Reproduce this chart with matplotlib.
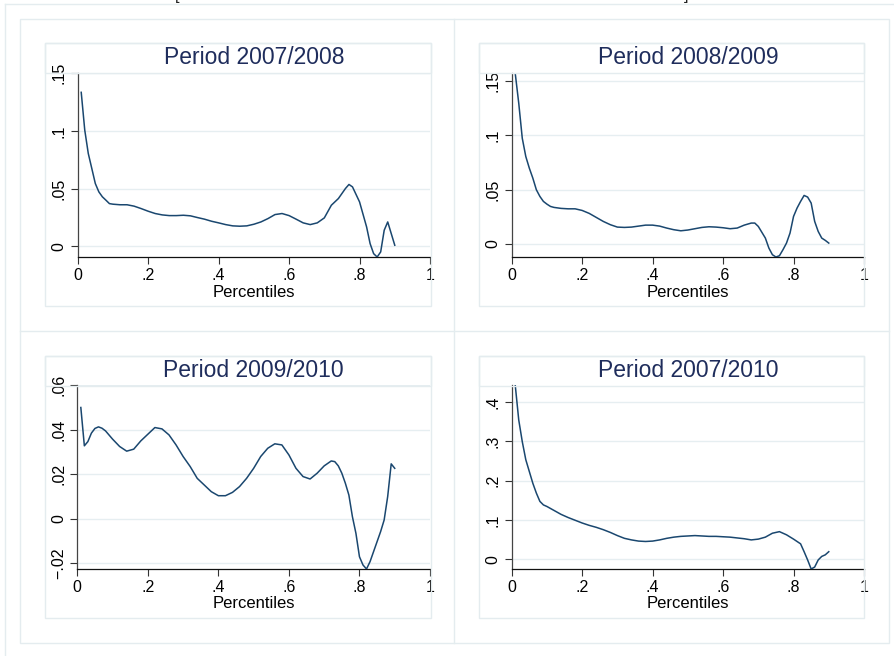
import matplotlib
matplotlib.use("Agg")
import matplotlib.pyplot as plt
from matplotlib.lines import Line2D
from matplotlib.patches import Rectangle

plt.rcParams['font.family'] = ['Liberation Sans', 'DejaVu Sans']

# ---- data -------------------------------------------------------------
p_0708 = [0.01, 0.02, 0.03, 0.04, 0.05, 0.06, 0.07, 0.08, 0.09, 0.10, 0.12, 0.14,
          0.16, 0.18, 0.20, 0.22, 0.24, 0.26, 0.28, 0.30, 0.32, 0.34, 0.36, 0.38,
          0.40, 0.42, 0.44, 0.46, 0.48, 0.50, 0.52, 0.54, 0.56, 0.58, 0.60, 0.62,
          0.64, 0.66, 0.68, 0.70, 0.72, 0.74, 0.76, 0.77, 0.78, 0.80, 0.82, 0.83,
          0.84, 0.85, 0.86, 0.87, 0.88, 0.89, 0.90]
v_0708 = [0.1335, 0.1008, 0.0805, 0.0675, 0.0544, 0.0472, 0.0429, 0.0400, 0.0370,
          0.0365, 0.0360, 0.0360, 0.0348, 0.0327, 0.0304, 0.0284, 0.0272, 0.0266,
          0.0266, 0.0269, 0.0264, 0.0249, 0.0235, 0.0217, 0.0203, 0.0188, 0.0177,
          0.0174, 0.0177, 0.0191, 0.0211, 0.0240, 0.0275, 0.0284, 0.0266, 0.0235,
          0.0203, 0.0188, 0.0203, 0.0246, 0.0356, 0.0414, 0.0501, 0.0536, 0.0515,
          0.0385, 0.0168, 0.0023, -0.0064, -0.0093, -0.0049, 0.0139, 0.0211,
          0.0110, 0.0009]

p_0809 = [0.01, 0.02, 0.03, 0.04, 0.05, 0.06, 0.07, 0.08, 0.09, 0.10, 0.11, 0.12,
          0.14, 0.16, 0.18, 0.20, 0.22, 0.24, 0.26, 0.28, 0.30, 0.32, 0.34, 0.36,
          0.38, 0.40, 0.42, 0.44, 0.46, 0.48, 0.50, 0.52, 0.54, 0.56, 0.58, 0.60,
          0.62, 0.64, 0.66, 0.68, 0.69, 0.70, 0.72, 0.73, 0.74, 0.75, 0.76, 0.77,
          0.78, 0.79, 0.80, 0.81, 0.82, 0.83, 0.84, 0.85, 0.86, 0.87, 0.88, 0.89,
          0.90]
v_0809 = [0.1570, 0.1295, 0.0973, 0.0805, 0.0698, 0.0606, 0.0499, 0.0438, 0.0392,
          0.0367, 0.0346, 0.0337, 0.0328, 0.0324, 0.0324, 0.0309, 0.0282, 0.0245,
          0.0208, 0.0178, 0.0156, 0.0153, 0.0156, 0.0165, 0.0174, 0.0174, 0.0165,
          0.0147, 0.0132, 0.0122, 0.0129, 0.0141, 0.0153, 0.0159, 0.0156, 0.0150,
          0.0141, 0.0147, 0.0174, 0.0193, 0.0193, 0.0162, 0.0055, -0.0037, -0.0098,
          -0.0119, -0.0107, -0.0052, 0.0009, 0.0101, 0.0254, 0.0331, 0.0392,
          0.0447, 0.0432, 0.0377, 0.0208, 0.0116, 0.0055, 0.0034, 0.0009]

p_0910 = [0.01, 0.02, 0.03, 0.04, 0.05, 0.06, 0.07, 0.08, 0.10, 0.12, 0.14, 0.16,
          0.18, 0.20, 0.22, 0.24, 0.26, 0.28, 0.30, 0.32, 0.34, 0.36, 0.38, 0.40,
          0.42, 0.44, 0.46, 0.48, 0.50, 0.52, 0.54, 0.56, 0.58, 0.60, 0.62, 0.64,
          0.66, 0.68, 0.70, 0.72, 0.73, 0.74, 0.75, 0.76, 0.77, 0.78, 0.79, 0.80,
          0.81, 0.82, 0.83, 0.84, 0.85, 0.86, 0.87, 0.88, 0.89, 0.90]
v_0910 = [0.0499, 0.0327, 0.0346, 0.0384, 0.0405, 0.0412, 0.0406, 0.0394, 0.0357,
          0.0324, 0.0303, 0.0312, 0.0349, 0.0379, 0.0409, 0.0403, 0.0376, 0.0331,
          0.0279, 0.0234, 0.0181, 0.0151, 0.0121, 0.0103, 0.0103, 0.0118, 0.0144,
          0.0181, 0.0226, 0.0279, 0.0316, 0.0336, 0.0331, 0.0286, 0.0226, 0.0189,
          0.0178, 0.0204, 0.0237, 0.0259, 0.0256, 0.0237, 0.0204, 0.0159, 0.0106,
          0.0009, -0.0066, -0.0171, -0.0208, -0.0226, -0.0193, -0.0148, -0.0103,
          -0.0058, -0.0006, 0.0099, 0.0246, 0.0226]

p_0710 = [0.01, 0.02, 0.03, 0.04, 0.05, 0.06, 0.07, 0.08, 0.09, 0.10, 0.12, 0.14,
          0.16, 0.18, 0.20, 0.22, 0.24, 0.26, 0.28, 0.30, 0.32, 0.34, 0.36, 0.38,
          0.40, 0.42, 0.44, 0.46, 0.48, 0.50, 0.52, 0.54, 0.56, 0.58, 0.60, 0.62,
          0.64, 0.66, 0.68, 0.70, 0.72, 0.74, 0.76, 0.78, 0.80, 0.82, 0.83, 0.84,
          0.85, 0.86, 0.87, 0.88, 0.89, 0.90]
v_0710 = [0.443, 0.354, 0.299, 0.253, 0.223, 0.193, 0.168, 0.147, 0.138, 0.134,
          0.124, 0.114, 0.106, 0.099, 0.092, 0.086, 0.081, 0.075, 0.068, 0.060,
          0.053, 0.049, 0.046, 0.045, 0.046, 0.049, 0.053, 0.056, 0.058, 0.059,
          0.060, 0.059, 0.058, 0.058, 0.057, 0.056, 0.054, 0.052, 0.049, 0.051,
          0.056, 0.066, 0.070, 0.062, 0.051, 0.039, 0.019, -0.002, -0.025, -0.020,
          -0.002, 0.007, 0.011, 0.019]

titles = ["Period 2007/2008", "Period 2008/2009", "Period 2009/2010", "Period 2007/2010"]
x_ticks = [0, 0.2, 0.4, 0.6, 0.8, 1.0]
x_ticklabels = ["0", ".2", ".4", ".6", ".8", "1"]
y_ticks = [[0, 0.05, 0.10, 0.15], [0, 0.05, 0.10, 0.15],
           [-0.02, 0, 0.02, 0.04, 0.06], [0, 0.1, 0.2, 0.3, 0.4]]
y_ticklabels = [["0", ".05", ".1", ".15"], ["0", ".05", ".1", ".15"],
                ["\u2212.02", "0", ".02", ".04", ".06"], ["0", ".1", ".2", ".3", ".4"]]
series = [(p_0708, v_0708), (p_0809, v_0809), (p_0910, v_0910), (p_0710, v_0710)]

# ---- layout (pixel geometry of a 894x656 canvas) -----------------------
W, H = 894, 656
fig = plt.figure(figsize=(W / 100, H / 100), dpi=100)
fig.patch.set_facecolor("white")

FRAME = "#e4ecef"
LINE = "#1a476f"
TITLE_COLOR = "#1f2d5c"


def fx(x):
    return x / W


def fy(y):
    return 1 - y / H


def hline(x0, x1, y, color=FRAME, lw=1.0):
    fig.add_artist(Line2D([fx(x0), fx(x1)], [fy(y), fy(y)], color=color, lw=lw,
                          transform=fig.transFigure))


def vline(x, y0, y1, color=FRAME, lw=1.0):
    fig.add_artist(Line2D([fx(x), fx(x)], [fy(y0), fy(y1)], color=color, lw=lw,
                          transform=fig.transFigure))


def box(x0, y0, x1, y1, color=FRAME, lw=1.0):
    fig.add_artist(Rectangle((fx(x0), fy(y1)), fx(x1) - fx(x0), fy(y0) - fy(y1),
                             fill=False, edgecolor=color, lw=lw,
                             transform=fig.transFigure))


# outer frames
hline(5, W, 4)
vline(5, 4, H)
box(20, 19, 889, 643)
vline(454, 19, 643)
hline(20, 889, 331)

# panel regions: (box left, box top, box right, box bottom, axis left, axis top, axis right, axis bottom)
panels = [
    (45, 43, 431, 306, 77.7, 73.3, 430, 257),
    (479, 43, 864, 306, 511.7, 73.3, 864, 257),
    (45, 356, 431, 618, 77.3, 385, 430, 569),
    (479, 356, 864, 618, 511.7, 385, 864, 569),
]

for i, (bx0, by0, bx1, by1, al, at, ar, ab) in enumerate(panels):
    box(bx0, by0, bx1, by1)
    box(bx0, by0, bx1, by0 + 30)

    ax = fig.add_axes([fx(al), fy(ab), fx(ar) - fx(al), fy(at) - fy(ab)])
    px, pv = series[i]
    ax.plot(px, pv, color=LINE, lw=1.1, solid_joinstyle="round", zorder=3)

    ymin = min(min(pv), y_ticks[i][0])
    ymax = max(max(pv), y_ticks[i][-1])
    ax.set_xlim(0, 1)
    ax.set_ylim(ymin, ymax)

    ax.set_xticks(x_ticks)
    ax.set_xticklabels(x_ticklabels, fontsize=11.5)
    ax.set_yticks(y_ticks[i])
    ax.set_yticklabels(y_ticklabels[i], fontsize=11.5, rotation=90, va="center")
    ax.tick_params(axis="both", direction="out", length=5, width=0.8,
                   color="#333333", pad=3)
    ax.yaxis.grid(True, color="#e6eef1", lw=1.0)
    ax.set_axisbelow(True)
    for s in ("top", "right"):
        ax.spines[s].set_visible(False)
    ax.spines["left"].set_color("#444444")
    ax.spines["bottom"].set_color("#111111")
    ax.spines["left"].set_linewidth(0.9)
    ax.spines["bottom"].set_linewidth(0.9)
    ax.set_facecolor("none")
    ax.set_xlabel("Percentiles", fontsize=12, labelpad=1)

    fig.text((fx(al) + fx(ar)) / 2, fy(by0 + 21), titles[i], ha="center",
             va="baseline", fontsize=16.5, color=TITLE_COLOR)

# clipped caption remnants along the top edge
fig.text(fx(177), fy(3), "[", ha="center", va="bottom", fontsize=12, color="#222222")
fig.text(fx(686), fy(3), "]", ha="center", va="bottom", fontsize=12, color="#222222")

fig.savefig("out.png", dpi=100, facecolor="white")
